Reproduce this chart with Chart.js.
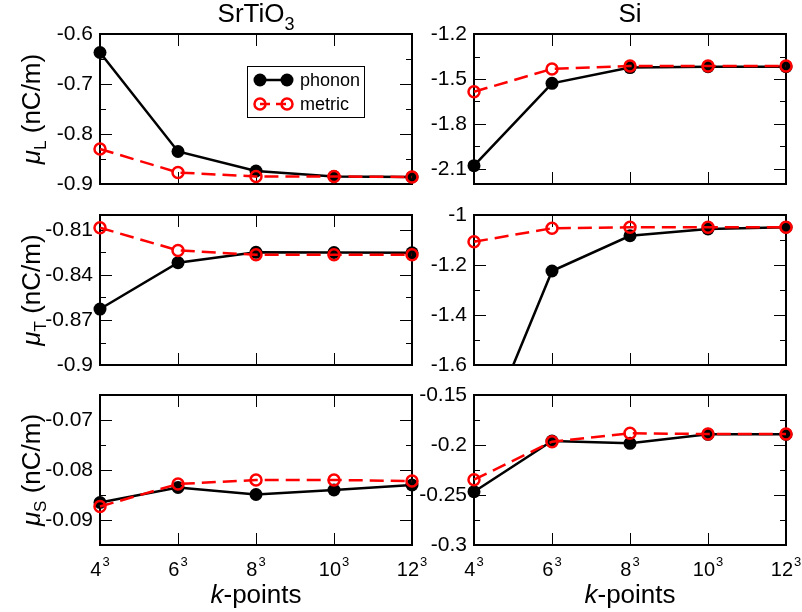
<!DOCTYPE html>
<html>
<head>
<meta charset="utf-8">
<script src="https://cdn.jsdelivr.net/npm/chart.js@4.4.1/dist/chart.umd.min.js"></script>
<style>
  html, body { margin: 0; padding: 0; background: #fff; }
  #wrap { position: relative; width: 802px; height: 612px; overflow: hidden; }
  #wrap canvas { position: absolute; }
</style>
</head>
<body>
<div id="wrap"></div>
<script>
// k-point meshes (n^3)
const kBase = ['4', '6', '8', '10', '12'];
const kExp = '3';

// SrTiO3
const stoL_phonon = [-0.637, -0.835, -0.874, -0.885, -0.886];
const stoL_metric = [-0.830, -0.877, -0.885, -0.885, -0.886];
const stoT_phonon = [-0.8627, -0.8318, -0.8249, -0.8250, -0.8252];
const stoT_metric = [-0.8085, -0.8236, -0.8265, -0.8265, -0.8265];
const stoS_phonon = [-0.0865, -0.0835, -0.0849, -0.0840, -0.0830];
const stoS_metric = [-0.0873, -0.0828, -0.0820, -0.0820, -0.0822];

// Si
const siL_phonon = [-2.078, -1.529, -1.424, -1.418, -1.418];
const siL_metric = [-1.585, -1.433, -1.413, -1.413, -1.413];
const siT_phonon = [-1.98, -1.224, -1.083, -1.056, -1.049];
const siT_metric = [-1.107, -1.053, -1.049, -1.049, -1.049];
const siS_phonon = [-0.2467, -0.1960, -0.1983, -0.1893, -0.1893];
const siS_metric = [-0.2347, -0.1967, -0.1883, -0.1890, -0.1890];

// y tick labels (major) and minor tick positions
const stoL_ticks = [-0.9, -0.8, -0.7, -0.6];
const stoL_minor = [-0.85, -0.75, -0.65];
const stoT_ticks = [-0.9, -0.87, -0.84, -0.81];
const stoT_minor = [-0.885, -0.855, -0.825];
const stoS_ticks = [-0.09, -0.08, -0.07];
const stoS_minor = [-0.095, -0.085, -0.075, -0.065];
const siL_ticks = [-2.1, -1.8, -1.5, -1.2];
const siL_minor = [-1.95, -1.65, -1.35];
const siT_ticks = [-1.6, -1.4, -1.2, -1];
const siT_minor = [-1.5, -1.3, -1.1];
const siS_ticks = [-0.3, -0.25, -0.2, -0.15];
const siS_minor = [-0.275, -0.225, -0.175];

const FONT = '"Liberation Sans", Arial, sans-serif';
const wrap = document.getElementById('wrap');

function makePanel(p) {
  const cv = document.createElement('canvas');
  const w = 100 + 312 + 16;
  const h = p.padTop + 150 + p.padBottom;
  cv.width = w; cv.height = h;
  cv.style.left = (p.x - 100) + 'px';
  cv.style.top = (p.y - p.padTop) + 'px';
  cv.style.width = w + 'px';
  cv.style.height = h + 'px';
  wrap.appendChild(cv);

  const panelPlugin = {
    id: 'panel',
    beforeDatasetsDraw(chart) {
      const { ctx, chartArea: a, scales: { x, y } } = chart;
      ctx.save();
      ctx.strokeStyle = '#000';
      ctx.lineWidth = 1;
      ctx.beginPath();
      const yTick = (v, len) => {
        const py = Math.round(y.getPixelForValue(v)) + 0.5;
        ctx.moveTo(a.left, py); ctx.lineTo(a.left + len, py);
        ctx.moveTo(a.right, py); ctx.lineTo(a.right - len, py);
      };
      p.ticks.forEach(v => yTick(v, 12));
      p.minor.forEach(v => yTick(v, 6));
      kBase.forEach((k, i) => {
        const px = Math.round(x.getPixelForValue(i)) + 0.5;
        ctx.moveTo(px, a.top); ctx.lineTo(px, a.top + 12);
        ctx.moveTo(px, a.bottom); ctx.lineTo(px, a.bottom - 12);
      });
      ctx.stroke();
      ctx.lineWidth = 2;
      ctx.strokeRect(a.left, a.top, a.right - a.left, a.bottom - a.top);
      ctx.restore();
    },
    afterDraw(chart) {
      const { ctx, chartArea: a, scales: { x } } = chart;
      const cx = (a.left + a.right) / 2;
      ctx.save();
      ctx.fillStyle = '#000';
      ctx.textBaseline = 'alphabetic';

      // panel title
      if (p.title) {
        ctx.font = '26px ' + FONT;
        const wMain = ctx.measureText(p.title).width;
        ctx.font = '18px ' + FONT;
        const wSub = p.titleSub ? ctx.measureText(p.titleSub).width : 0;
        let tx = cx - (wMain + wSub) / 2;
        ctx.font = '26px ' + FONT;
        ctx.textAlign = 'left';
        ctx.fillText(p.title, tx, a.top - 12);
        if (p.titleSub) {
          ctx.font = '18px ' + FONT;
          ctx.fillText(p.titleSub, tx + wMain, a.top - 4);
        }
      }

      // y axis label: mu_X (nC/m)
      if (p.ysub) {
        const cy = (a.top + a.bottom) / 2;
        ctx.translate(40, cy);
        ctx.rotate(-Math.PI / 2);
        ctx.textAlign = 'left';
        ctx.font = 'italic 26px ' + FONT;
        const w1 = ctx.measureText('\u03bc').width;
        ctx.font = '17px ' + FONT;
        const w2 = ctx.measureText(p.ysub).width;
        ctx.font = '26px ' + FONT;
        const w3 = ctx.measureText(' (nC/m)').width;
        let tx = -(w1 + w2 + w3) / 2;
        ctx.font = 'italic 26px ' + FONT;
        ctx.fillText('\u03bc', tx, 0);
        ctx.font = '17px ' + FONT;
        ctx.fillText(p.ysub, tx + w1, 6);
        ctx.font = '26px ' + FONT;
        ctx.fillText(' (nC/m)', tx + w1 + w2, 0);
        ctx.setTransform(1, 0, 0, 1, 0, 0);
      }

      // x tick labels with superscript and axis title
      if (p.showX) {
        kBase.forEach((k, i) => {
          const px = x.getPixelForValue(i);
          ctx.font = '20px ' + FONT;
          const wb = ctx.measureText(k).width;
          ctx.font = '13px ' + FONT;
          const we = ctx.measureText(kExp).width;
          const lx = px - (wb + we + 1) / 2;
          ctx.textAlign = 'left';
          ctx.font = '20px ' + FONT;
          ctx.fillText(k, lx, a.bottom + 31);
          ctx.font = '13px ' + FONT;
          ctx.fillText(kExp, lx + wb + 1, a.bottom + 21);
        });
        ctx.font = 'italic 26px ' + FONT;
        const wk = ctx.measureText('k').width;
        ctx.font = '26px ' + FONT;
        const wr = ctx.measureText('-points').width;
        const lx = cx - (wk + wr) / 2;
        ctx.textAlign = 'left';
        ctx.font = 'italic 26px ' + FONT;
        ctx.fillText('k', lx, a.bottom + 58);
        ctx.font = '26px ' + FONT;
        ctx.fillText('-points', lx + wk, a.bottom + 58);
      }

      // legend box
      if (p.legend) {
        const lx = a.left + 147.5, ly = a.top + 32.5;
        ctx.lineWidth = 1;
        ctx.strokeStyle = '#000';
        ctx.strokeRect(lx, ly, 117, 51);
        const r1 = a.top + 46, r2 = a.top + 70;
        const m1 = a.left + 160, m2 = a.left + 187;
        ctx.lineWidth = 2.5;
        ctx.beginPath(); ctx.moveTo(m1, r1); ctx.lineTo(m2, r1); ctx.stroke();
        ctx.fillStyle = '#000';
        [m1, m2].forEach(mx => { ctx.beginPath(); ctx.arc(mx, r1, 6.5, 0, Math.PI * 2); ctx.fill(); });
        ctx.strokeStyle = '#ff0000';
        ctx.setLineDash([10, 6]);
        ctx.beginPath(); ctx.moveTo(m1, r2); ctx.lineTo(m2, r2); ctx.stroke();
        ctx.setLineDash([]);
        [m1, m2].forEach(mx => { ctx.beginPath(); ctx.arc(mx, r2, 5.5, 0, Math.PI * 2); ctx.stroke(); });
        ctx.fillStyle = '#000';
        ctx.font = '18px ' + FONT;
        ctx.textAlign = 'left';
        ctx.textBaseline = 'middle';
        ctx.fillText('phonon', a.left + 200, r1 + 1);
        ctx.fillText('metric', a.left + 200, r2 + 1);
      }
      ctx.restore();
    }
  };

  return new Chart(cv, {
    type: 'line',
    data: {
      labels: kBase.map(k => k + '\u00b3'),
      datasets: [
        {
          label: 'phonon', data: p.phonon, order: 1, clip: p.clip,
          borderColor: '#000', borderWidth: 2.5,
          pointRadius: 6.5, pointBorderWidth: 0,
          pointBackgroundColor: '#000', pointBorderColor: '#000'
        },
        {
          label: 'metric', data: p.metric, order: 0, clip: p.clip,
          borderColor: '#ff0000', borderWidth: 2.5, borderDash: [14, 7],
          pointRadius: 5.5, pointBorderWidth: 2.5,
          pointBackgroundColor: 'rgba(0,0,0,0)', pointBorderColor: '#ff0000'
        }
      ]
    },
    options: {
      responsive: false,
      animation: false,
      events: [],
      layout: { padding: { left: 0, top: p.padTop, right: 16, bottom: 0 } },
      plugins: { legend: { display: false }, tooltip: { enabled: false } },
      scales: {
        x: {
          type: 'category', offset: false,
          grid: { display: false, drawTicks: false },
          border: { display: false },
          ticks: { display: false },
          afterFit(s) { s.height = p.padBottom; s.paddingLeft = 0; s.paddingRight = 0; }
        },
        y: {
          min: p.min, max: p.max,
          grid: { display: false, drawTicks: false },
          border: { display: false },
          ticks: {
            color: '#000', padding: 7, autoSkip: false,
            font: { family: FONT, size: 21 },
            callback: v => String(v)
          },
          afterBuildTicks(s) { s.ticks = p.ticks.map(v => ({ value: v })); },
          afterFit(s) { s.width = 100; s.paddingTop = 0; s.paddingBottom = 0; }
        }
      }
    },
    plugins: [panelPlugin]
  });
}

const clipAll = { left: 12, top: 12, right: 14, bottom: 12 };

makePanel({ x: 100, y: 34, padTop: 34, padBottom: 12, min: -0.9, max: -0.6,
  ticks: stoL_ticks, minor: stoL_minor, phonon: stoL_phonon, metric: stoL_metric,
  title: 'SrTiO', titleSub: '3', ysub: 'L', legend: true, clip: clipAll });
makePanel({ x: 474, y: 34, padTop: 34, padBottom: 12, min: -2.2, max: -1.2,
  ticks: siL_ticks, minor: siL_minor, phonon: siL_phonon, metric: siL_metric,
  title: 'Si', clip: clipAll });
makePanel({ x: 100, y: 215, padTop: 12, padBottom: 12, min: -0.9, max: -0.8,
  ticks: stoT_ticks, minor: stoT_minor, phonon: stoT_phonon, metric: stoT_metric,
  ysub: 'T', clip: clipAll });
makePanel({ x: 474, y: 215, padTop: 12, padBottom: 12, min: -1.6, max: -1,
  ticks: siT_ticks, minor: siT_minor, phonon: siT_phonon, metric: siT_metric,
  clip: { left: 12, top: 12, right: 14, bottom: 0 } });
makePanel({ x: 100, y: 395, padTop: 12, padBottom: 67, min: -0.095, max: -0.065,
  ticks: stoS_ticks, minor: stoS_minor, phonon: stoS_phonon, metric: stoS_metric,
  ysub: 'S', showX: true, clip: clipAll });
makePanel({ x: 474, y: 395, padTop: 12, padBottom: 67, min: -0.3, max: -0.15,
  ticks: siS_ticks, minor: siS_minor, phonon: siS_phonon, metric: siS_metric,
  showX: true, clip: clipAll });
</script>
</body>
</html>
